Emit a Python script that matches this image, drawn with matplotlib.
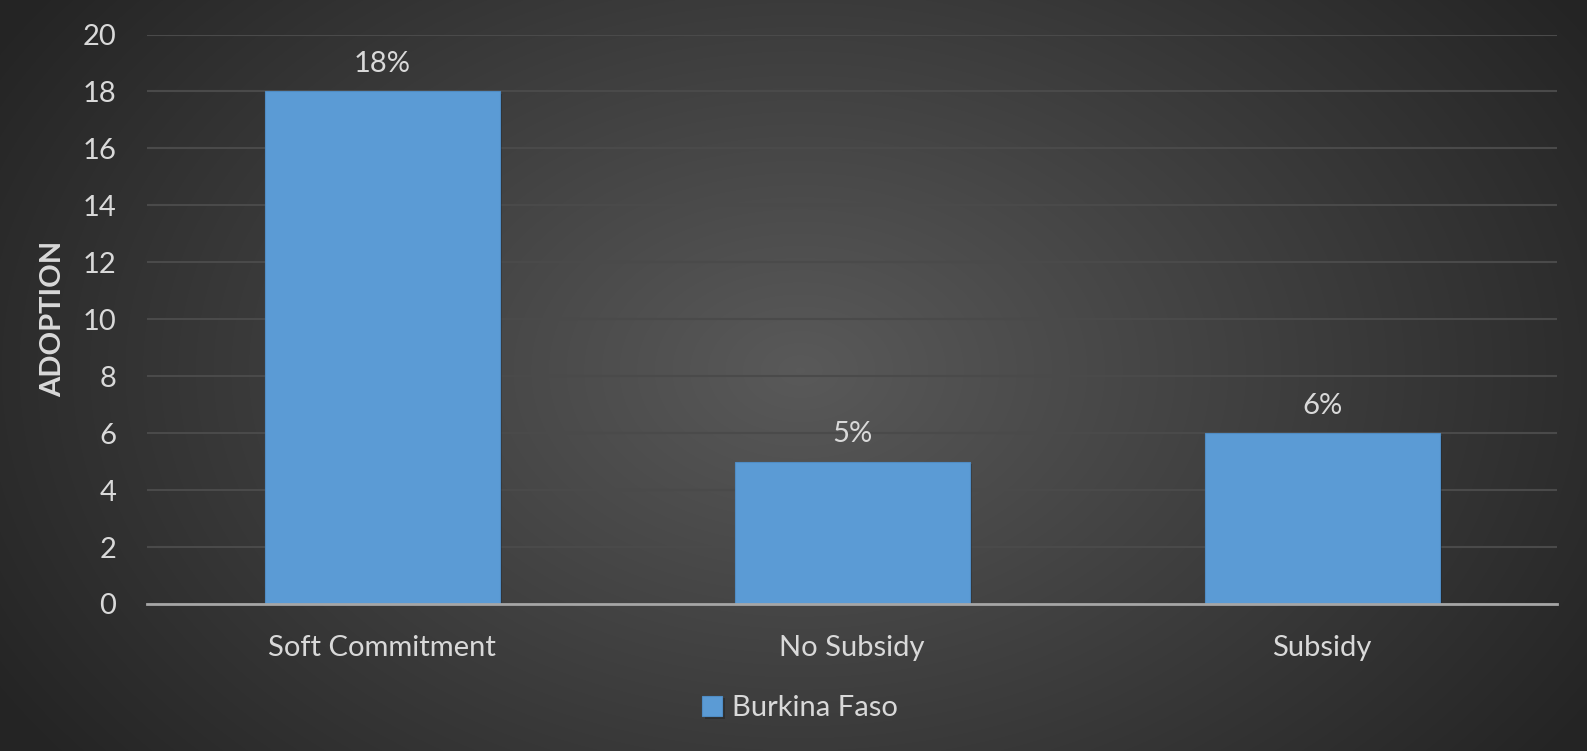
import numpy as np
import matplotlib
matplotlib.use("Agg")
import matplotlib.pyplot as plt
import matplotlib.patheffects as pe

categories = ["Soft Commitment", "No Subsidy", "Subsidy"]
adoption = [18, 5, 6]
labels = ["18%", "5%", "6%"]
series_name = "Burkina Faso"

plt.rcParams["font.family"] = ["Lato", "DejaVu Sans"]

W, H = 1587, 751
fig = plt.figure(figsize=(W / 100, H / 100), dpi=100)

# radial gradient background
bg = fig.add_axes([0, 0, 1, 1], zorder=-10)
yy, xx = np.mgrid[0:H, 0:W]
r = np.sqrt(((xx - 800) / 900.0) ** 2 + ((yy - 370) / 620.0) ** 2)
shade = np.clip(0.35 - 0.2 * r, 0.145, 0.35)
bg.imshow(np.dstack([shade] * 3), aspect="auto", extent=[0, 1, 0, 1])
bg.axis("off")

ax = fig.add_axes([147 / W, 1 - 604 / H, (1557 - 147) / W, (604 - 34.5) / H])
ax.patch.set_alpha(0)

x = np.arange(len(categories))
bars = ax.bar(x, adoption, width=0.5, color="#5b9bd5", edgecolor="#4f8cc4",
              linewidth=0.8, label=series_name, zorder=3)
for b in bars:
    b.set_path_effects([pe.SimplePatchShadow(offset=(2, -2), shadow_rgbFace="black", alpha=0.22),
                        pe.Normal()])

fs = 21
for xi, v, lab in zip(x, adoption, labels):
    ax.text(xi, v + 0.5, lab, ha="center", va="bottom", color="#d9d9d9", fontsize=fs)

ax.set_xlim(-0.5, 2.5)
ax.set_ylim(0, 20)
ax.set_yticks(range(0, 21, 2))
ax.set_xticks(x)
ax.set_xticklabels(categories)
ax.tick_params(axis="both", length=0, colors="#d9d9d9", labelsize=fs)
ax.tick_params(axis="y", pad=22)
ax.tick_params(axis="x", pad=22)
ax.grid(axis="y", color="#4a4a4a", linewidth=1.5, zorder=0)
ax.set_axisbelow(True)
for s in ["top", "right", "left"]:
    ax.spines[s].set_visible(False)
ax.spines["bottom"].set_color("#a6a6a6")
ax.spines["bottom"].set_linewidth(2)
ax.spines["bottom"].set_zorder(4)

ax.set_ylabel("ADOPTION", color="#d9d9d9", fontsize=fs, fontweight="bold", labelpad=12)

leg = fig.legend(handles=[bars[0]], labels=[series_name], loc="center",
                 bbox_to_anchor=(800 / W, 1 - 708 / H), frameon=False,
                 fontsize=fs, handlelength=0.7, handleheight=0.7, handletextpad=0.35)
for t in leg.get_texts():
    t.set_color("#d9d9d9")

fig.savefig("out.png", dpi=100)
